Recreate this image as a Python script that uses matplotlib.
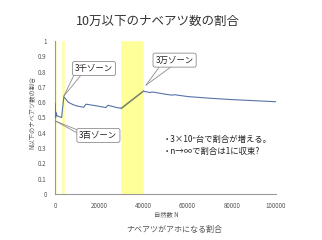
import matplotlib
matplotlib.use("Agg")
import matplotlib.pyplot as plt

plt.rcParams['font.family'] = ['Noto Sans CJK JP', 'DejaVu Sans']

# data
n_values = [100, 300, 400, 1000, 2000, 3000, 4000, 6000, 8000, 10000, 13000, 14000,
            18000, 23000, 24000, 28000, 30000, 40000, 43000, 44000, 50000, 53000,
            54000, 60000, 70000, 80000, 90000, 100000]
ratio = [0.59, 0.50, 0.535, 0.51, 0.505, 0.50, 0.636, 0.60, 0.585, 0.575, 0.567, 0.587,
         0.578, 0.565, 0.58, 0.565, 0.56, 0.672, 0.663, 0.667, 0.652, 0.646,
         0.649, 0.637, 0.626, 0.617, 0.61, 0.603]
zones = [(300, 400), (3000, 4000), (30000, 40000)]
xticks = [0, 20000, 40000, 60000, 80000, 100000]
yticks = [0, 0.1, 0.2, 0.3, 0.4, 0.5, 0.6, 0.7, 0.8, 0.9, 1]
ytick_labels = ['0', '0.1', '0.2', '0.3', '0.4', '0.5', '0.6', '0.7', '0.8', '0.9', '1']

W, H = 322, 240
fig = plt.figure(figsize=(W / 100, H / 100), dpi=100)
ax = fig.add_axes([55 / W, 1 - 194 / H, 221 / W, 153 / H])

for a, b in zones:
    ax.axvspan(a, b, facecolor='#ffff99', edgecolor='#ffff99', lw=0.4, zorder=1)
ax.plot(n_values, ratio, color='#5574a8', lw=0.8, zorder=3)
# segment inside the 3万 zone appears olive in the reference
ax.plot(n_values[16:18], ratio[16:18], color='#7f8760', lw=1.0, zorder=4)

ax.set_xlim(0, 100000)
ax.set_ylim(0, 1)
ax.set_xticks(xticks)
ax.set_xticklabels([str(v) for v in xticks], fontsize=4.5, color='#555555')
ax.set_yticks(yticks)
ax.set_yticklabels(ytick_labels, fontsize=4.5, color='#555555')
ax.tick_params(length=0, pad=6)
for s in ['top', 'right']:
    ax.spines[s].set_visible(False)
for s in ['left', 'bottom']:
    ax.spines[s].set_color('#9a9a9a')
    ax.spines[s].set_linewidth(0.8)

# callouts
box = dict(boxstyle='round,pad=0.3,rounding_size=0.25', fc='white', ec='#8c8c8c', lw=0.6)
def callout(text, tx, ty, target, bases):
    for bx, by in bases:
        ax.plot([target[0], bx], [target[1], by], color='#8c8c8c', lw=0.6,
                zorder=5, clip_on=False)
    ax.text(tx, ty, text, fontsize=6, ha='left', va='center', bbox=box,
            zorder=6, color='#222222')

callout('3千ゾーン', 9000, 0.82, (4000, 0.64), [(9000, 0.79), (12500, 0.79)])
callout('3百ゾーン', 11000, 0.383, (200, 0.477), [(9900, 0.42), (9900, 0.40)])
callout('3万ゾーン', 45500, 0.875, (41200, 0.712), [(47500, 0.836), (53000, 0.836)])

ax.text(48900, 0.353, '・3×10ⁿ台で割合が増える。', fontsize=6, ha='left',
        va='center', color='#222222')
ax.text(48900, 0.275, '・n→∞で割合は1に収束?', fontsize=6, ha='left',
        va='center', color='#222222')

fig.text(158 / W, 1 - 21 / H, '10万以下のナベアツ数の割合', fontsize=9,
         ha='center', va='center', color='#333333')
fig.text(33 / W, 1 - 112 / H, 'N以下のナベアツ数の割合', fontsize=4.5, rotation=90,
         ha='center', va='center', color='#555555')
fig.text(166 / W, 1 - 215 / H, '自然数 N', fontsize=4.5, ha='center', va='center',
         color='#555555')
fig.text(174 / W, 1 - 229 / H, 'ナベアツがアホになる割合', fontsize=5.8,
         ha='center', va='center', color='#555555')

fig.savefig('out.png', dpi=100)
